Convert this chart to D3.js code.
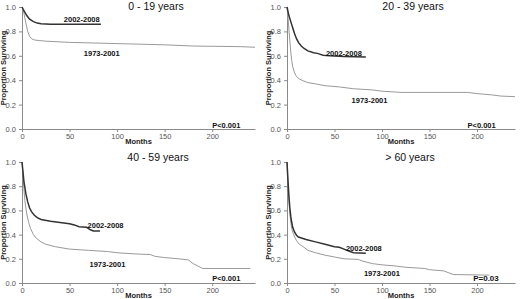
<!DOCTYPE html>
<html>
<head>
<meta charset="utf-8">
<script src="https://cdn.jsdelivr.net/npm/d3@7"></script>
<style>
  body { margin: 0; background: #fff; }
  svg { display: block; font-family: 'Liberation Sans', Arial, sans-serif; }
</style>
</head>
<body>
<svg id="chart" width="520" height="299"></svg>
<script>
// months and proportion surviving
var xTicks = [0, 50, 100, 150, 200];
var yTicks = [0, 0.2, 0.4, 0.6, 0.8, 1.0];

var titles = ['0 - 19 years', '20 - 39 years', '40 - 59 years', '> 60 years'];
var pValues = ['P<0.001', 'P<0.001', 'P<0.001', 'P=0.03'];

var recentMonths1 = [0, 2, 5, 8, 12, 16, 20, 30, 50, 83];
var recentSurv1   = [1.0, 0.97, 0.93, 0.9, 0.88, 0.868, 0.862, 0.858, 0.858, 0.858];
var oldMonths1 = [0, 2, 4, 6, 8, 10, 13, 18, 25, 50, 100, 150, 180, 230, 245];
var oldSurv1   = [1.0, 0.95, 0.87, 0.8, 0.76, 0.74, 0.73, 0.725, 0.72, 0.71, 0.70, 0.69, 0.68, 0.675, 0.67];

var recentMonths2 = [0, 2, 4, 6, 8, 10, 12, 15, 18, 22, 28, 32, 38, 45, 60, 83];
var recentSurv2   = [1.0, 0.93, 0.88, 0.83, 0.78, 0.74, 0.71, 0.68, 0.66, 0.64, 0.625, 0.62, 0.605, 0.6, 0.595, 0.59];
var oldMonths2 = [0, 1, 2, 3, 4, 5, 6, 8, 10, 13, 17, 22, 30, 40, 55, 70, 90, 100, 120, 190, 200, 215, 225, 240];
var oldSurv2   = [1.0, 0.92, 0.82, 0.72, 0.63, 0.56, 0.51, 0.46, 0.43, 0.41, 0.395, 0.38, 0.37, 0.355, 0.345, 0.33, 0.32, 0.31, 0.30, 0.30, 0.29, 0.28, 0.27, 0.265];

var recentMonths3 = [0, 1, 2, 4, 6, 8, 10, 13, 16, 20, 30, 40, 50, 55, 60, 68, 70, 72, 75, 82];
var recentSurv3   = [1.0, 0.92, 0.84, 0.74, 0.67, 0.62, 0.59, 0.56, 0.54, 0.525, 0.51, 0.5, 0.49, 0.48, 0.465, 0.46, 0.45, 0.44, 0.43, 0.43];
var oldMonths3 = [0, 1, 2, 3, 5, 7, 9, 12, 15, 20, 25, 35, 50, 70, 90, 100, 120, 135, 140, 150, 165, 175, 180, 185, 190, 240];
var oldSurv3   = [1.0, 0.9, 0.78, 0.68, 0.57, 0.5, 0.45, 0.4, 0.37, 0.34, 0.32, 0.3, 0.28, 0.27, 0.26, 0.25, 0.24, 0.235, 0.22, 0.21, 0.2, 0.19, 0.16, 0.14, 0.12, 0.12];

var recentMonths4 = [0, 1, 2, 3, 4, 5, 6, 8, 10, 12, 16, 20, 30, 40, 50, 55, 60, 65, 70, 83];
var recentSurv4   = [1.0, 0.85, 0.72, 0.62, 0.55, 0.5, 0.46, 0.42, 0.395, 0.38, 0.37, 0.36, 0.34, 0.32, 0.30, 0.295, 0.28, 0.265, 0.25, 0.245];
var oldMonths4 = [0, 1, 2, 3, 4, 5, 6, 8, 10, 13, 17, 22, 30, 40, 50, 60, 75, 80, 90, 100, 115, 125, 145, 150, 165, 175, 213];
var oldSurv4   = [1.0, 0.82, 0.68, 0.57, 0.5, 0.45, 0.42, 0.38, 0.35, 0.32, 0.3, 0.27, 0.25, 0.23, 0.215, 0.2, 0.195, 0.18, 0.16, 0.15, 0.14, 0.13, 0.12, 0.11, 0.1, 0.07, 0.065];

// label anchors in data units [month, survival]
var recentLabelAt = [[44, 0.877], [41, 0.598], [69, 0.455], [62, 0.264]];
var oldLabelAt    = [[65, 0.598], [68, 0.213], [71, 0.132], [81, 0.058]];
var pLabelAt      = [[200, 0.008], [190, 0.008], [200, 0.017], [196, 0.017]];

var recentMonths = [recentMonths1, recentMonths2, recentMonths3, recentMonths4];
var recentSurv = [recentSurv1, recentSurv2, recentSurv3, recentSurv4];
var oldMonths = [oldMonths1, oldMonths2, oldMonths3, oldMonths4];
var oldSurv = [oldSurv1, oldSurv2, oldSurv3, oldSurv4];

// panel boxes: x axis ends, top (1.0) and bottom (0.0), title spot
var boxes = [
    { left: 22, right: 255, top: 7, bottom: 129, maxX: 245, titleX: 156, titleY: 10 },
    { left: 287, right: 515, top: 7, bottom: 129, maxX: 240, titleX: 413, titleY: 10 },
    { left: 22, right: 255, top: 162, bottom: 283, maxX: 245, titleX: 158, titleY: 161 },
    { left: 287, right: 515, top: 162, bottom: 283, maxX: 240, titleX: 410, titleY: 161 }
];

var svg = d3.select('#chart');

function zip(ms, vs) {
    return ms.map(function (m, i) { return [m, vs[i]]; });
}

function drawPanel(i) {
    var b = boxes[i];
    var x = d3.scaleLinear().domain([0, b.maxX]).range([b.left, b.right]);
    var y = d3.scaleLinear().domain([0, 1]).range([b.bottom, b.top]);
    var g = svg.append('g').attr('class', 'panel');

    var xAxis = g.append('g')
        .attr('transform', 'translate(0,' + b.bottom + ')')
        .call(d3.axisBottom(x).tickValues(xTicks).tickSize(3).tickSizeOuter(0).tickPadding(2));
    var yAxis = g.append('g')
        .attr('transform', 'translate(' + b.left + ',0)')
        .call(d3.axisLeft(y).tickValues(yTicks).tickSize(3).tickSizeOuter(0).tickPadding(3).tickFormat(d3.format('.1f')));
    [xAxis, yAxis].forEach(function (a) {
        a.select('.domain').attr('stroke', '#8a8a8a');
        a.selectAll('.tick line').attr('stroke', '#8a8a8a');
        a.selectAll('.tick text').attr('fill', '#555').attr('font-size', 7.5)
            .attr('font-family', 'Liberation Sans, Arial, sans-serif');
    });

    var line = d3.line()
        .x(function (d) { return x(d[0]); })
        .y(function (d) { return y(d[1]); })
        .curve(d3.curveLinear);

    g.append('path')
        .datum(zip(oldMonths[i], oldSurv[i]))
        .attr('d', line)
        .attr('fill', 'none')
        .attr('stroke', '#9a9a9a')
        .attr('stroke-width', 1);

    g.append('path')
        .datum(zip(recentMonths[i], recentSurv[i]))
        .attr('d', line)
        .attr('fill', 'none')
        .attr('stroke', '#333')
        .attr('stroke-width', 1.5);

    g.append('text')
        .attr('x', b.titleX)
        .attr('y', b.titleY)
        .attr('text-anchor', 'middle')
        .attr('font-size', 10.5)
        .attr('fill', '#111')
        .text(titles[i]);

    g.append('text')
        .attr('x', (b.left + b.right) / 2)
        .attr('y', b.bottom + 15)
        .attr('text-anchor', 'middle')
        .attr('font-size', 7.5)
        .attr('font-weight', 'bold')
        .attr('fill', '#222')
        .text('Months');

    g.append('text')
        .attr('transform', 'translate(' + (b.left - 16) + ',' + ((b.top + b.bottom) / 2) + ')rotate(-90)')
        .attr('text-anchor', 'middle')
        .attr('font-size', 7.5)
        .attr('font-weight', 'bold')
        .attr('fill', '#222')
        .text('Proportion Surviving');

    var labels = [
        ['2002-2008', recentLabelAt[i]],
        ['1973-2001', oldLabelAt[i]],
        [pValues[i], pLabelAt[i]]
    ];
    labels.forEach(function (l) {
        g.append('text')
            .attr('x', x(l[1][0]))
            .attr('y', y(l[1][1]))
            .attr('font-size', i === 3 && l[0] === pValues[i] ? 8 : 7.5)
            .attr('font-weight', 'bold')
            .attr('fill', '#111')
            .text(l[0]);
    });
}

for (var i = 0; i < 4; i++) {
    drawPanel(i);
}
</script>
</body>
</html>
